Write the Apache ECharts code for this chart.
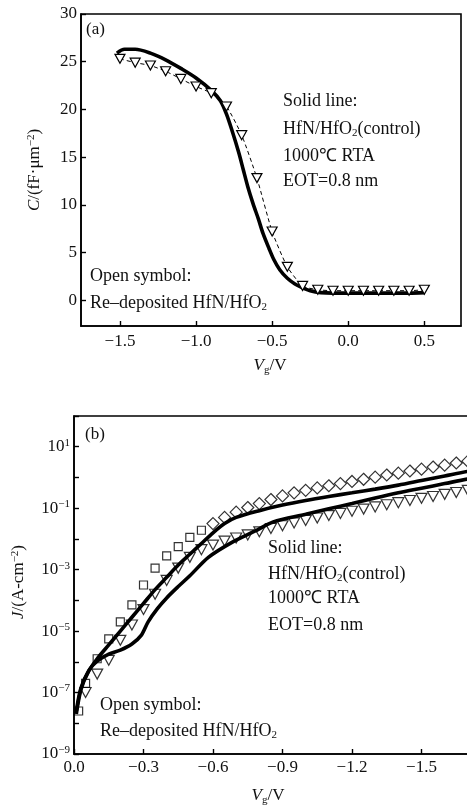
<!DOCTYPE html>
<html>
<head>
<meta charset="utf-8">
<script src="https://cdn.jsdelivr.net/npm/echarts@6/dist/echarts.min.js"></script>
<style>
html,body{margin:0;padding:0;background:#fff}
#chart{width:467px;height:812px}
</style>
</head>
<body>
<div id="chart"></div>
<script>
// ---- (a) C–V curves ----
const cvCtrlV = [-1.52,-1.47,-1.4,-1.3,-1.2,-1.1,-1.0,-0.9,-0.84,-0.8,-0.76,-0.72,-0.69,-0.66,-0.625,-0.59,-0.56,-0.52,-0.49,-0.45,-0.40,-0.35,-0.30,-0.25,-0.18,-0.1,0.0,0.1,0.2,0.3,0.4,0.5];
const cvCtrlC = [25.9,26.3,26.3,25.9,25.2,24.3,23.3,22.0,20.9,19.5,17.6,15.5,13.7,11.9,10.1,8.5,7.0,5.4,4.3,3.2,2.3,1.7,1.3,1.0,0.8,0.75,0.75,0.75,0.75,0.75,0.75,0.8];
const cvRedepV = [-1.5,-1.4,-1.3,-1.2,-1.1,-1.0,-0.9,-0.8,-0.7,-0.6,-0.5,-0.4,-0.3,-0.2,-0.1,0.0,0.1,0.2,0.3,0.4,0.5];
const cvRedepC = [25.3,24.9,24.6,24.0,23.2,22.4,21.7,20.3,17.3,12.8,7.2,3.5,1.5,1.1,1.0,1.0,1.0,1.0,1.0,1.0,1.1];
const cvXTicks = [-1.5,-1.0,-0.5,0.0,0.5];
const cvYTicks = [0,5,10,15,20,25,30];

// ---- (b) J–V curves ----
const jvUpperV = [-0.01,-0.03,-0.06,-0.10,-0.15,-0.20,-0.25,-0.30,-0.35,-0.40,-0.45,-0.50,-0.55,-0.60,-0.65,-0.70,-0.80,-0.90,-1.00,-1.10,-1.20,-1.30,-1.40,-1.50,-1.60,-1.70,-1.80];
const jvUpperJ = [2.0e-8,1.26e-7,4.47e-7,1.26e-6,3.55e-6,1.0e-5,2.82e-5,7.94e-5,2.24e-4,5.62e-4,1.41e-3,3.16e-3,7.08e-3,1.58e-2,3.16e-2,5.01e-2,8.32e-2,0.126,0.178,0.24,0.316,0.417,0.562,0.794,1.12,1.58,2.14];
const jvLowerV = [-0.01,-0.03,-0.065,-0.10,-0.15,-0.20,-0.25,-0.29,-0.32,-0.36,-0.40,-0.45,-0.50,-0.58,-0.68,-0.78,-0.86,-1.00,-1.10,-1.20,-1.30,-1.40,-1.50,-1.60,-1.70,-1.80];
const jvLowerJ = [2.51e-8,1.41e-7,5.37e-7,1.05e-6,1.78e-6,2.4e-6,3.8e-6,7.24e-6,2.0e-5,5.37e-5,1.2e-4,2.82e-4,6.31e-4,2.51e-3,7.59e-3,1.78e-2,3.55e-2,6.31e-2,9.55e-2,0.141,0.214,0.316,0.447,0.631,0.891,1.2];
const jvSquareV = [-0.02,-0.05,-0.10,-0.15,-0.20,-0.25,-0.30,-0.35,-0.40,-0.45,-0.50,-0.55];
const jvSquareJ = [2.51e-8,2.0e-7,1.26e-6,5.62e-6,2.0e-5,7.08e-5,3.16e-4,1.12e-3,2.82e-3,5.62e-3,1.12e-2,1.91e-2];
const jvDiamondV = [-0.60,-0.65,-0.70,-0.75,-0.80,-0.85,-0.90,-0.95,-1.00,-1.05,-1.10,-1.15,-1.20,-1.25,-1.30,-1.35,-1.40,-1.45,-1.50,-1.55,-1.60,-1.65,-1.70,-1.75];
const jvDiamondJ = [3.16e-2,5.01e-2,7.41e-2,0.105,0.141,0.191,0.251,0.316,0.38,0.457,0.537,0.631,0.741,0.871,1.02,1.2,1.38,1.62,1.86,2.19,2.51,2.95,3.39,3.8];
const jvTriV = [-0.05,-0.10,-0.15,-0.20,-0.25,-0.30,-0.35,-0.40,-0.45,-0.50,-0.55,-0.60,-0.65,-0.70,-0.75,-0.80,-0.85,-0.90,-0.95,-1.00,-1.05,-1.10,-1.15,-1.20,-1.25,-1.30,-1.35,-1.40,-1.45,-1.50,-1.55,-1.60,-1.65,-1.70,-1.75];
const jvTriJ = [1.0e-7,3.98e-7,1.12e-6,5.01e-6,1.58e-5,5.01e-5,1.58e-4,4.47e-4,1.12e-3,2.51e-3,4.47e-3,6.31e-3,8.51e-3,1.07e-2,1.35e-2,1.7e-2,2.19e-2,2.69e-2,3.31e-2,3.98e-2,4.79e-2,5.75e-2,6.76e-2,7.94e-2,9.33e-2,0.11,0.129,0.151,0.178,0.209,0.24,0.282,0.324,0.38,0.437];

const FONT = 'Liberation Serif';
const INK = '#111';
const pairs = (xs, ys) => xs.map((x, i) => [x, ys[i]]);
const fmtV = v => (Math.abs(v) < 1e-9 ? '0.0' : (v < 0 ? '\u2212' : '') + Math.abs(v).toFixed(1));

const richText = {
  n: { fontFamily: FONT, fontSize: 18, lineHeight: 20, color: INK },
  m: { fontFamily: FONT, fontSize: 17, lineHeight: 19, color: INK },
  i: { fontFamily: FONT, fontSize: 17, lineHeight: 19, color: INK, fontStyle: 'italic' },
  sub: { fontFamily: FONT, fontSize: 11, lineHeight: 11, color: INK, verticalAlign: 'bottom' },
  sup: { fontFamily: FONT, fontSize: 11, lineHeight: 11, color: INK, verticalAlign: 'top' }
};

function label(x, y, text, rot) {
  return {
    type: 'text', x: x, y: y, rotation: rot || 0,
    style: { text: text, rich: richText, align: rot ? 'center' : 'left', verticalAlign: 'middle', fill: INK }
  };
}
function centered(x, y, text, rot) {
  const g = label(x, y, text, rot);
  g.style.align = 'center';
  return g;
}

const chart = echarts.init(document.getElementById('chart'), null, { renderer: 'canvas', width: 467, height: 812 });

const axisLineStyle = { onZero: false, lineStyle: { color: '#000', width: 1.6 } };
const tickStyle = { inside: true, length: 5, lineStyle: { color: '#000', width: 1.4 } };
const tickLabel = { fontFamily: FONT, fontSize: 17, color: INK };

chart.setOption({
  animation: false,
  backgroundColor: '#fff',
  grid: [
    { left: 81, top: 14, width: 380, height: 312, show: true, borderColor: '#000', borderWidth: 1.6, backgroundColor: 'transparent', outerBoundsMode: 'none', containLabel: false },
    { left: 74, top: 416, width: 417, height: 338, show: true, borderColor: '#000', borderWidth: 1.6, backgroundColor: 'transparent', outerBoundsMode: 'none', containLabel: false }
  ],
  xAxis: [
    {
      type: 'value', gridIndex: 0, min: -1.756, max: 0.741,
      axisLine: axisLineStyle,
      axisTick: Object.assign({ customValues: cvXTicks }, tickStyle),
      axisLabel: Object.assign({ customValues: cvXTicks, margin: 7, formatter: fmtV }, tickLabel),
      splitLine: { show: false }
    },
    {
      type: 'value', gridIndex: 1, min: -1.8, max: 0, interval: 0.3, inverse: true,
      axisLine: axisLineStyle,
      axisTick: tickStyle,
      axisLabel: Object.assign({ margin: 5, formatter: fmtV }, tickLabel),
      splitLine: { show: false }
    }
  ],
  yAxis: [
    {
      type: 'value', gridIndex: 0, min: -2.7, max: 30,
      axisLine: axisLineStyle,
      axisTick: Object.assign({ customValues: cvYTicks }, tickStyle),
      axisLabel: Object.assign({ customValues: cvYTicks, margin: 4 }, tickLabel),
      splitLine: { show: false }
    },
    {
      type: 'log', logBase: 10, gridIndex: 1, min: 1e-9, max: 100, interval: 1,
      axisLine: axisLineStyle,
      axisTick: tickStyle,
      axisLabel: {
        margin: 4,
        formatter: v => {
          const e = Math.round(Math.log10(v));
          if (e % 2 === 0) return '';
          return '{b|10}{s|' + (e < 0 ? '\u2212' : '') + Math.abs(e) + '}';
        },
        rich: {
          b: { fontFamily: FONT, fontSize: 17, lineHeight: 19, color: INK },
          s: { fontFamily: FONT, fontSize: 11, lineHeight: 11, color: INK, verticalAlign: 'top' }
        }
      },
      splitLine: { show: false }
    }
  ],
  series: [
    {
      type: 'line', xAxisIndex: 0, yAxisIndex: 0, data: pairs(cvCtrlV, cvCtrlC),
      smooth: 0.3, showSymbol: false, lineStyle: { color: '#000', width: 3.6 }, z: 3
    },
    {
      type: 'line', xAxisIndex: 0, yAxisIndex: 0, data: pairs(cvRedepV, cvRedepC),
      smooth: 0.2, symbol: 'triangle', symbolRotate: 180, symbolSize: [10, 9],
      lineStyle: { color: '#000', width: 1, type: [4, 3] },
      itemStyle: { color: '#fff', borderColor: '#000', borderWidth: 1.2 }, z: 4
    },
    {
      type: 'line', xAxisIndex: 1, yAxisIndex: 1, data: pairs(jvUpperV, jvUpperJ),
      smooth: 0.3, showSymbol: false, lineStyle: { color: '#000', width: 3.6 }, z: 3
    },
    {
      type: 'line', xAxisIndex: 1, yAxisIndex: 1, data: pairs(jvLowerV, jvLowerJ),
      smooth: 0.3, showSymbol: false, lineStyle: { color: '#000', width: 3.6 }, z: 3
    },
    {
      type: 'scatter', xAxisIndex: 1, yAxisIndex: 1, data: pairs(jvSquareV, jvSquareJ),
      symbol: 'rect', symbolSize: 8,
      itemStyle: { color: 'rgba(255,255,255,0)', borderColor: '#000', borderWidth: 1.2 }, z: 4
    },
    {
      type: 'scatter', xAxisIndex: 1, yAxisIndex: 1, data: pairs(jvDiamondV, jvDiamondJ),
      symbol: 'diamond', symbolSize: [12, 12],
      itemStyle: { color: 'rgba(255,255,255,0)', borderColor: '#000', borderWidth: 1.2 }, z: 4
    },
    {
      type: 'scatter', xAxisIndex: 1, yAxisIndex: 1, data: pairs(jvTriV, jvTriJ),
      symbol: 'triangle', symbolRotate: 180, symbolSize: [11, 10],
      itemStyle: { color: 'rgba(255,255,255,0)', borderColor: '#000', borderWidth: 1.2 }, z: 4
    }
  ],
  graphic: [
    label(86, 30, '{m|(a)}'),
    label(283, 101, '{n|Solid line:}'),
    label(283, 129, '{n|HfN/HfO}{sub|2}{n|(control)}'),
    label(283, 156, '{n|1000\u2103 RTA}'),
    label(283, 181, '{n|EOT=0.8 nm}'),
    label(90, 276, '{n|Open symbol:}'),
    label(90, 303, '{n|Re\u2013deposited HfN/HfO}{sub|2}'),
    centered(270, 366, '{i|V}{sub|g}{m|/V}'),
    centered(35, 170, '{i|C}{m|/(fF\u00b7\u03bcm}{sup|\u22122}{m|)}', Math.PI / 2),

    label(85, 435, '{m|(b)}'),
    label(268, 548, '{n|Solid line:}'),
    label(268, 574, '{n|HfN/HfO}{sub|2}{n|(control)}'),
    label(268, 598, '{n|1000\u2103 RTA}'),
    label(268, 625, '{n|EOT=0.8 nm}'),
    label(100, 705, '{n|Open symbol:}'),
    label(100, 731, '{n|Re\u2013deposited HfN/HfO}{sub|2}'),
    centered(268, 796, '{i|V}{sub|g}{m|/V}'),
    centered(19, 582, '{i|J}{m|/(A-cm}{sup|\u22122}{m|)}', Math.PI / 2)
  ]
});
</script>
</body>
</html>
